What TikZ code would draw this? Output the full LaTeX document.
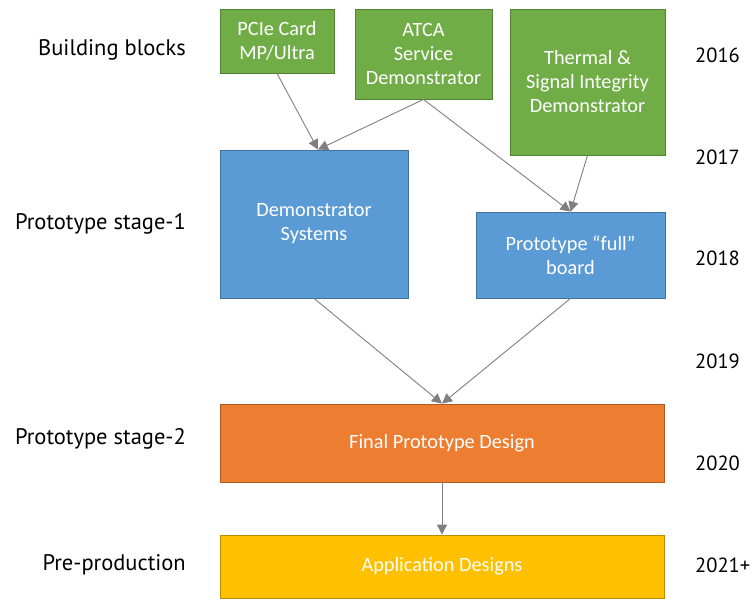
\documentclass[tikz,border=0pt]{standalone}
\usepackage{fontspec}
\setmainfont{Carlito}
\newfontfamily\sidefont{PT Sans}
\usepackage{xcolor}
\usetikzlibrary{arrows.meta}

\definecolor{blockgreen}{HTML}{70AD47}
\definecolor{blockgreenline}{HTML}{548235}
\definecolor{protoblue}{HTML}{5B9BD5}
\definecolor{protoblueline}{HTML}{41719C}
\definecolor{finalorange}{HTML}{ED7D31}
\definecolor{finalorangeline}{HTML}{AE5A21}
\definecolor{appyellow}{HTML}{FFC000}
\definecolor{appyellowline}{HTML}{BC8C00}
\definecolor{flowgray}{HTML}{7F7F7F}

\begin{document}
\begin{tikzpicture}[x=1pt,y=-1pt,font=\fontsize{20.3}{24}\selectfont]

\tikzstyle{card} =
[rectangle,
inner sep=0pt,
align=center,
text=white,
line width=0.8pt]

\tikzstyle{blockbox} = [card, draw=blockgreenline, fill=blockgreen]
\tikzstyle{protobox} = [card, draw=protoblueline, fill=protoblue]
\tikzstyle{finalbox} = [card, draw=finalorangeline, fill=finalorange]
\tikzstyle{appbox} = [card, draw=appyellowline, fill=appyellow]

\tikzstyle{stagelabel} = [anchor=east, inner sep=0pt,
font=\sidefont\fontsize{22.5}{26}\selectfont]
\tikzstyle{yearlabel} = [anchor=west, inner sep=0pt,
font=\sidefont\fontsize{20.5}{24}\selectfont]

\tikzstyle{flow} = [draw=flowgray, line width=0.9pt,
-{Triangle[length=10pt,width=10pt]}]

\useasboundingbox (0,0) rectangle (753,599);

% building blocks
\node (pcie) [blockbox, minimum width=114pt, minimum height=64pt]
at (277,41) {PCIe Card\\MP/Ultra};
\node (atca) [blockbox, minimum width=137pt, minimum height=90pt]
at (423.5,54) {ATCA\\Service\\Demonstrator};
\node (thermal) [blockbox, minimum width=155pt, minimum height=146pt]
at (587.5,82) {Thermal \&\\Signal Integrity\\Demonstrator};

% prototype stage 1
\node (demo) [protobox, minimum width=188pt, minimum height=148pt]
at (314,224) {Demonstrator\\Systems};
\node (board) [protobox, minimum width=189pt, minimum height=86pt]
at (570.5,255) {Prototype “full”\\board};

% prototype stage 2 and pre-production
\node (final) [finalbox, minimum width=444pt, minimum height=78pt]
at (442,443) {Final Prototype Design};
\node (apps) [appbox, minimum width=444pt, minimum height=63pt]
at (442,566.5) {Application Designs};

% stages on the left
\node (lblocks) [stagelabel] at (186,50) {Building blocks};
\node (lstage1) [stagelabel] at (186,224) {Prototype stage-1};
\node (lstage2) [stagelabel] at (186,439) {Prototype stage-2};
\node (lpreprod) [stagelabel] at (186,565) {Pre-production};

% years on the right
\node (y2016) [yearlabel] at (695,55) {2016};
\node (y2017) [yearlabel] at (695,157) {2017};
\node (y2018) [yearlabel] at (695,258) {2018};
\node (y2019) [yearlabel] at (695,361) {2019};
\node (y2020) [yearlabel] at (695,463) {2020};
\node (y2021) [yearlabel] at (695,565) {2021+};

\draw[flow] (pcie.south) -- ([xshift=4pt]demo.north);
\draw[flow] (atca.south) -- ([xshift=4pt]demo.north);
\draw[flow] (atca.south) -- (board.north);
\draw[flow] (thermal.south) -- (board.north);
\draw[flow] (demo.south) -- (final.north);
\draw[flow] (board.south) -- (final.north);
\draw[flow] (final.south) -- (apps.north);

\end{tikzpicture}
\end{document}
